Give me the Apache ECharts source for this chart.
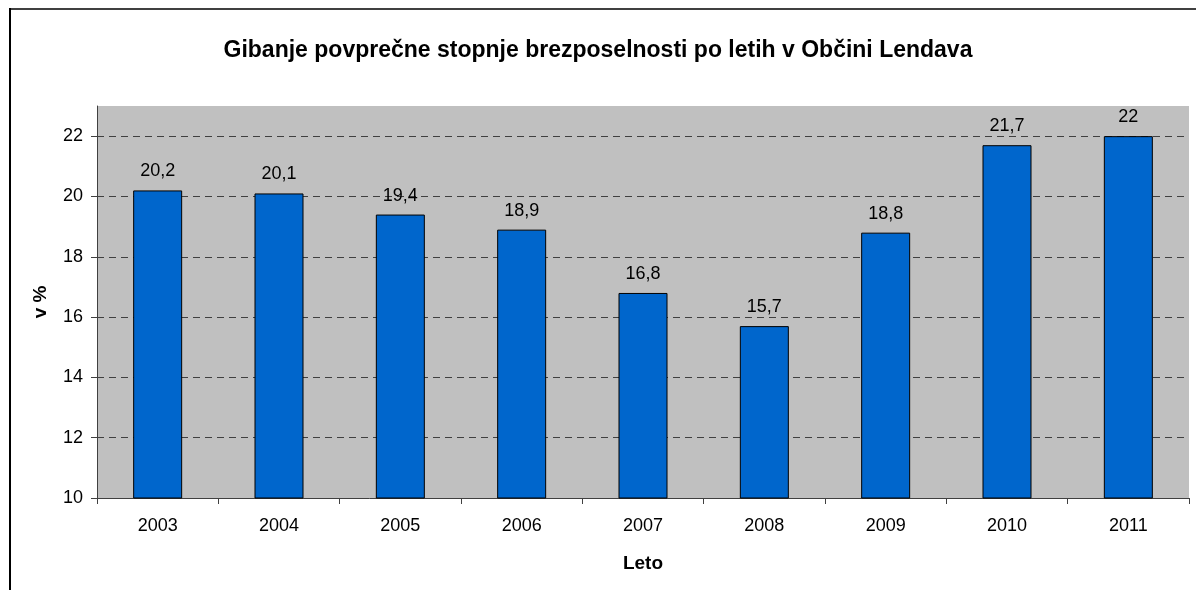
<!DOCTYPE html>
<html>
<head>
<meta charset="utf-8">
<script src="https://cdn.jsdelivr.net/npm/echarts@6/dist/echarts.min.js"></script>
<style>
  html, body { margin: 0; padding: 0; background: #fff; }
  #main { width: 1196px; height: 590px; }
</style>
</head>
<body>
<div id="main"></div>
<script>
// leta in stopnja brezposelnosti (v %)
var years = ['2003', '2004', '2005', '2006', '2007', '2008', '2009', '2010', '2011'];
var rates = [20.2, 20.1, 19.4, 18.9, 16.8, 15.7, 18.8, 21.7, 22];
var yTicks = [10, 12, 14, 16, 18, 20, 22];

var font = '"Liberation Sans", Arial, sans-serif';

var chart = echarts.init(document.getElementById('main'));
chart.setOption({
    animation: false,
    textStyle: { fontFamily: font },
    title: {
        text: 'Gibanje povprečne stopnje brezposelnosti po letih v Občini Lendava',
        left: 'center',
        top: 34,
        textStyle: { fontSize: 23, fontWeight: 'bold', color: '#000', fontFamily: font }
    },
    // okvir slike (zgornja in leva črta)
    graphic: [
        { type: 'rect', shape: { x: 9, y: 8, width: 1187, height: 2 }, style: { fill: '#404040' } },
        { type: 'rect', shape: { x: 9, y: 8, width: 2, height: 582 }, style: { fill: '#000' } }
    ],
    grid: {
        left: 97, right: 7, top: 106, bottom: 92,
        show: true, backgroundColor: '#c0c0c0', borderWidth: 0
    },
    xAxis: {
        type: 'category',
        data: years,
        name: 'Leto',
        nameLocation: 'middle',
        nameGap: 56,
        nameTextStyle: { fontSize: 19, fontWeight: 'bold', color: '#000' },
        axisLine: { lineStyle: { color: '#404040', width: 1 } },
        axisTick: { show: true, length: 6, lineStyle: { color: '#404040' } },
        axisLabel: { fontSize: 18, color: '#000', margin: 19 }
    },
    yAxis: {
        type: 'value',
        min: 10,
        max: 23,
        interval: 2,
        name: 'v %',
        nameLocation: 'middle',
        nameGap: 47,
        nameTextStyle: { fontSize: 19, fontWeight: 'bold', color: '#000' },
        axisLine: { show: true, lineStyle: { color: '#404040', width: 1 } },
        axisTick: { show: true, length: 6, customValues: yTicks, lineStyle: { color: '#404040' } },
        axisLabel: {
            fontSize: 18, color: '#000', margin: 14,
            customValues: yTicks
        },
        splitLine: {
            lineStyle: { color: '#404040', type: [7, 5], width: 1 }
        }
    },
    series: [{
        type: 'bar',
        data: rates,
        barWidth: 49,
        itemStyle: { color: '#0066cc', borderColor: '#000', borderWidth: 1 },
        label: {
            show: true,
            position: 'top',
            distance: 10,
            fontSize: 18,
            color: '#000',
            formatter: function (p) { return String(p.value).replace('.', ','); }
        }
    }]
});
</script>
</body>
</html>
